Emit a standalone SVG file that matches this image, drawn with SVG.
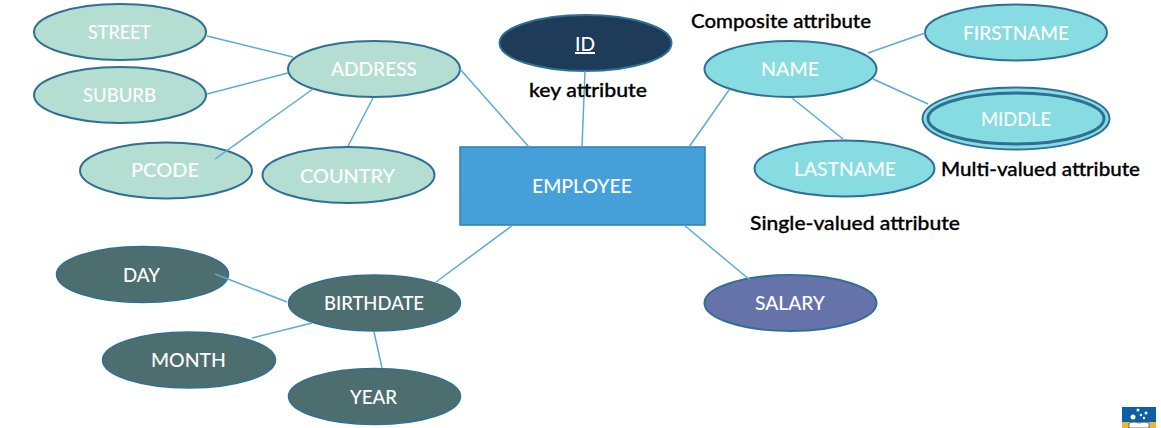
<svg xmlns="http://www.w3.org/2000/svg" width="1161" height="428" viewBox="0 0 1161 428">
<style>
text{font-family:"Lato","Open Sans","Liberation Sans",sans-serif}
.n{stroke:#2f6f96;stroke-width:2}
.addr{fill:#b5ded2}
.name{fill:#86dce0}
.birth{fill:#4d6e6e}
.l{fill:#fff;font-size:20px;font-weight:500;text-anchor:middle}
.c{fill:#000;font-size:19px;font-weight:500;stroke:#000;stroke-width:.3}
#connectors line{stroke:#5aaadb;stroke-width:1.5}
</style>
<rect width="1161" height="428" fill="#fff"/>
<g id="street"><ellipse class="n addr" cx="120" cy="32" rx="86" ry="28"/></g>
<g id="suburb"><ellipse class="n addr" cx="120" cy="95" rx="86" ry="28"/></g>
<g id="pcode"><ellipse class="n addr" cx="166" cy="170.500" rx="86" ry="28"/></g>
<g id="country"><ellipse class="n addr" cx="348.500" cy="175" rx="86" ry="28"/></g>
<g id="address"><ellipse class="n addr" cx="374" cy="69" rx="86" ry="28"/></g>
<g id="id"><ellipse class="n" fill="#1f3b5a" cx="585.500" cy="43" rx="86" ry="28"/></g>
<g id="nameNode"><ellipse class="n name" cx="790.500" cy="69" rx="86" ry="28"/></g>
<g id="firstname"><ellipse class="n name" cx="1016" cy="32.500" rx="91" ry="28"/></g>
<g id="middle"><ellipse class="name" stroke="#2f6f96" stroke-width="2" cx="1016" cy="118.500" rx="93.500" ry="31"/><ellipse class="name" stroke="#2f6f96" stroke-width="3" cx="1016" cy="118.500" rx="88" ry="25.500"/></g>
<g id="lastname"><ellipse class="n name" cx="844.500" cy="168.500" rx="90" ry="28"/></g>
<g id="employee"><rect x="460" y="147" width="245" height="78" fill="#45a0da" stroke="#2f7fae" stroke-width="1.500"/></g>
<g id="salary"><ellipse class="n" fill="#6673aa" cx="790.500" cy="303" rx="86" ry="28"/></g>
<g id="day"><ellipse class="birth" stroke="#2f6f96" stroke-width="1.500" cx="142.500" cy="274.500" rx="86" ry="28"/></g>
<g id="birthdate"><ellipse class="birth" stroke="#2f6f96" stroke-width="1.500" cx="374.500" cy="303" rx="86" ry="28"/></g>
<g id="month"><ellipse class="birth" stroke="#2f6f96" stroke-width="1.500" cx="189" cy="360" rx="86.500" ry="28"/></g>
<g id="year"><ellipse class="birth" stroke="#2f6f96" stroke-width="1.500" cx="374.500" cy="396.500" rx="86" ry="28"/></g>
<g id="connectors">
<line x1="207" y1="36" x2="293" y2="57"/>
<line x1="207" y1="94" x2="288" y2="73"/>
<line x1="215" y1="159" x2="313" y2="89"/>
<line x1="348" y1="146" x2="373" y2="98"/>
<line x1="460" y1="69" x2="529" y2="147"/>
<line x1="585" y1="71" x2="582" y2="147"/>
<line x1="729" y1="90" x2="689" y2="147"/>
<line x1="868" y1="53" x2="925" y2="33"/>
<line x1="873" y1="79" x2="928" y2="104"/>
<line x1="792" y1="98" x2="843" y2="139"/>
<line x1="513" y1="225" x2="436" y2="282"/>
<line x1="684" y1="225" x2="750" y2="280"/>
<line x1="215" y1="274" x2="287" y2="302"/>
<line x1="252" y1="338" x2="312" y2="323"/>
<line x1="374" y1="332" x2="382" y2="368"/>
</g>
<g id="labels">
<text class="l" x="119.500" y="39" textLength="63" lengthAdjust="spacingAndGlyphs">STREET</text>
<text class="l" x="119.500" y="102" textLength="73" lengthAdjust="spacingAndGlyphs">SUBURB</text>
<text class="l" x="165" y="177" textLength="68" lengthAdjust="spacingAndGlyphs">PCODE</text>
<text class="l" x="347.500" y="183" textLength="95" lengthAdjust="spacingAndGlyphs">COUNTRY</text>
<text class="l" x="374" y="76" textLength="86" lengthAdjust="spacingAndGlyphs">ADDRESS</text>
<text class="l" x="585" y="51" textLength="20" lengthAdjust="spacingAndGlyphs" text-decoration="underline">ID</text>
<text class="l" x="790" y="76" textLength="58" lengthAdjust="spacingAndGlyphs">NAME</text>
<text class="l" x="1016" y="40" textLength="106" lengthAdjust="spacingAndGlyphs">FIRSTNAME</text>
<text class="l" x="1016" y="126" textLength="70" lengthAdjust="spacingAndGlyphs">MIDDLE</text>
<text class="l" x="845" y="176" textLength="102" lengthAdjust="spacingAndGlyphs">LASTNAME</text>
<text class="l" x="582" y="193" textLength="100" lengthAdjust="spacingAndGlyphs">EMPLOYEE</text>
<text class="l" x="790" y="310" textLength="70" lengthAdjust="spacingAndGlyphs">SALARY</text>
<text class="l" x="141.500" y="282" textLength="37" lengthAdjust="spacingAndGlyphs">DAY</text>
<text class="l" x="374" y="310" textLength="100" lengthAdjust="spacingAndGlyphs">BIRTHDATE</text>
<text class="l" x="188.500" y="367" textLength="75" lengthAdjust="spacingAndGlyphs">MONTH</text>
<text class="l" x="373.500" y="404" textLength="47" lengthAdjust="spacingAndGlyphs">YEAR</text>
<text class="c" x="529" y="97" textLength="118" lengthAdjust="spacingAndGlyphs">key attribute</text>
<text class="c" x="691" y="28" textLength="180" lengthAdjust="spacingAndGlyphs">Composite attribute</text>
<text class="c" x="941" y="176" textLength="199" lengthAdjust="spacingAndGlyphs">Multi-valued attribute</text>
<text class="c" x="750" y="230" textLength="210" lengthAdjust="spacingAndGlyphs">Single-valued attribute</text>
</g>
<g id="logo">
<rect x="1122" y="407" width="34" height="15" fill="#0f5fa8"/>
<rect x="1122" y="422" width="34" height="6" fill="#e6b93a"/>
<circle cx="1133" cy="417" r="2.500" fill="#fff"/><circle cx="1138" cy="410" r="1.500" fill="#fff"/><circle cx="1141" cy="415" r="1.200" fill="#fff"/><circle cx="1146" cy="413" r="1.500" fill="#fff"/><circle cx="1144" cy="418" r="1.200" fill="#fff"/>
<path d="M1129 428v-5q5-2 10 0q5-2 10 0v5z" fill="#fff" stroke="#555" stroke-width=".8"/>
</g>
</svg>
